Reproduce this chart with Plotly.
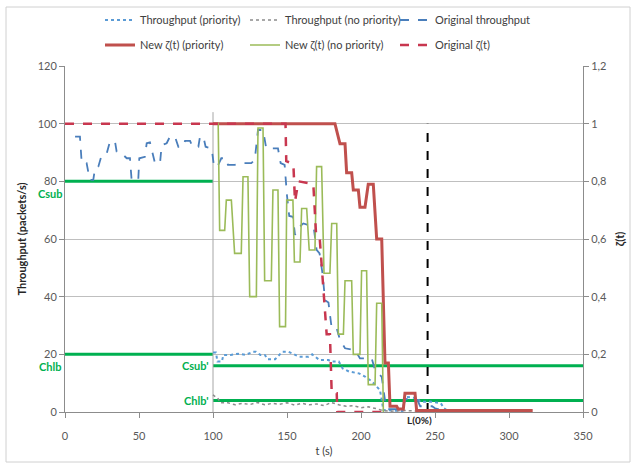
import plotly.graph_objects as go

# ---------------- data ----------------
# Original throughput (packets/s)
t_orig_thr = [6.8, 10.1, 11.3, 14.6, 15.7, 16.9, 19.1, 20.3, 22.5, 24.8, 28.2, 30.4, 33.8, 34.9,
              38.3, 41.7, 43.9, 45.0, 49.5, 50.2, 54.0, 55.2, 57.4, 59.2, 60.8, 64.2, 65.3, 68.7,
              70.9, 74.3, 76.6, 79.9, 81.1, 84.5, 86.2, 90.1, 91.2, 93.5, 95.0, 99.1, 100.7, 103.0,
              105.6, 109.0, 110.1, 114.6, 119.1, 125.9, 128.2, 130.4, 133.8, 136.0, 143.9, 145.7,
              148.4, 150.0, 151.5, 154.0, 155.4, 158.0, 161.0, 168.0, 170.0, 172.0, 174.0, 175.7,
              178.0, 180.2, 183.6, 185.8, 189.2, 196.0, 199.3, 207.2, 209.5, 214.0, 215.1, 216.5,
              218.0, 228.0, 230.0, 238.0, 240.0, 248.0, 250.0, 255.0]
v_orig_thr = [95.5, 95.5, 86.3, 86.3, 83.3, 80.5, 80.5, 84.5, 85.1, 89.1, 89.7, 93.8, 93.8, 90.3,
              89.7, 88.0, 88.0, 80.5, 80.5, 88.0, 88.5, 93.2, 93.5, 89.7, 86.3, 86.3, 92.5, 93.2,
              95.5, 95.5, 92.0, 92.0, 94.0, 94.0, 92.0, 92.0, 95.5, 95.5, 92.0, 91.4, 85.1, 85.1,
              88.0, 88.0, 85.7, 85.7, 86.3, 86.3, 87.4, 97.8, 97.8, 91.4, 91.4, 86.3,
              85.7, 75.0, 68.0, 67.7, 61.4, 64.0, 65.4, 64.3, 56.2, 55.0, 48.0, 38.8,
              38.0, 29.0, 29.0, 25.0, 22.1, 21.5, 18.6, 18.6, 14.6, 12.2, 8.8, 3.0,
              1.0, 1.0, 4.5, 4.2, 2.0, 2.0, 1.3, 0.5]

# Throughput with priority (packets/s)
t_thr_prio = [100, 102, 103, 106, 107, 112, 117, 122, 127, 129, 132, 135, 137, 142, 146.8, 151,
              154, 157.9, 164.6, 167, 172, 178, 180, 185, 187.6, 192, 198.6, 203, 207.6, 210,
              212.8, 214, 215.1, 228, 230, 238, 240, 247, 254, 256, 260]
v_thr_prio = [20.6, 20.6, 17.5, 17.5, 19.8, 19.8, 20.2, 19.8, 20.9, 20.9, 19.8, 19.8, 18.3, 18.3,
              20.9, 20.9, 20.2, 19.2, 19.2, 20.0, 18.0, 18.0, 17.5, 17.5, 15.1, 14.0, 13.4, 12.2,
              10.5, 9.0, 7.6, 4.2, 0.7, 0.3, 5.3, 4.8, 3.5, 3.6, 3.0, 1.3, 0.0]

# Throughput without priority (packets/s)
t_thr_noprio = [100, 101, 103, 105, 110, 115, 120, 125, 130, 135, 140, 145, 150, 155, 160, 165,
                170, 175, 180, 185, 190, 195, 200, 205, 210, 215, 220, 230, 240, 245]
v_thr_noprio = [6.0, 5.5, 5.0, 3.2, 3.2, 2.5, 3.0, 2.6, 3.3, 2.5, 3.0, 2.7, 3.2, 2.4, 3.0, 2.5,
                2.8, 2.2, 3.3, 2.5, 2.0, 2.2, 1.5, 1.8, 1.2, 0.5, 0.3, 0.5, 0.3, 0.2]
t_start_mark = [100, 100]
v_start_mark = [0, 104]

# New zeta(t) with priority
t_z_prio = [100, 182.4, 185.8, 189.2, 190.3, 193.7, 194.8, 198.2, 199.3, 202.7, 204.9, 208.3,
            210.6, 214.0, 216.2, 218.5, 219.6, 224.1, 225.2, 228.6, 229.7, 236.5, 237.6, 316.0]
z_prio = [1.0, 1.0, 0.93, 0.93, 0.83, 0.83, 0.77, 0.77, 0.71, 0.71, 0.79, 0.79,
          0.60, 0.60, 0.17, 0.17, 0.02, 0.02, 0.01, 0.01, 0.065, 0.065, 0.005, 0.005]

# New zeta(t) without priority
t_z_noprio = [100, 103.5, 104.5, 107.9, 109.0, 112.4, 114.6, 119.1, 120.3, 123.6, 124.8, 129.3,
              130.4, 133.8, 134.9, 139.4, 140.5, 143.9, 145.0, 149.0, 149.8, 154.0, 155.0, 158.8,
              159.9, 163.3, 165.0, 168.9, 170.0, 173.4, 175.0, 179.0, 180.2, 183.6, 184.7, 188.1,
              189.2, 193.7, 194.8, 199.3, 200.4, 203.8, 204.9, 209.5, 210.6, 214.0, 215.1]
z_noprio = [1.0, 1.0, 0.63, 0.63, 0.735, 0.735, 0.55, 0.55, 0.816, 0.816, 0.40, 0.40,
            0.985, 0.985, 0.455, 0.455, 0.77, 0.77, 0.296, 0.296, 0.735, 0.735, 0.52, 0.52,
            0.706, 0.706, 0.562, 0.562, 0.851, 0.851, 0.481, 0.481, 0.654, 0.654, 0.27, 0.27,
            0.455, 0.455, 0.20, 0.20, 0.49, 0.49, 0.095, 0.095, 0.377, 0.377, 0.0]

# Original zeta(t)
t_z_orig = [0, 149.0, 149.5, 154.3, 155.4, 157.7, 167.8, 169.6, 172.0, 176.8, 179.0, 180.2,
            183.6, 184.0, 215.0]
z_orig = [1.0, 1.0, 0.87, 0.86, 0.73, 0.80, 0.79, 0.62, 0.61, 0.27, 0.27, 0.065,
          0.065, 0.0, 0.0]

# Capacity thresholds
csub_t, csub_v = [0, 100], [80, 80]
chlb_t, chlb_v = [0, 100], [20, 20]
csub2_t, csub2_v = [100, 350], [16, 16]
chlb2_t, chlb2_v = [100, 350], [4, 4]
l0_t, l0_v = [245, 245], [0, 100]

left_ticks = [0, 20, 40, 60, 80, 100, 120]
right_tickvals = [0, 0.2, 0.4, 0.6, 0.8, 1.0, 1.2]
right_ticktext = ["0", "0,2", "0,4", "0,6", "0,8", "1", "1,2"]
x_ticks = [0, 50, 100, 150, 200, 250, 300, 350]

# ---------------- styles ----------------
FONT = "Lato"
RED = "#c0504d"
OLIVE = "#9bbb59"
GREEN = "#00b050"
BLUE_D = "#4a7ebb"
BLUE_P = "#5b9bd5"
GRAY_T = "#8c8c8c"

L, R, T, B = 65, 53, 66, 58
PW, PH = 636 - L - R, 470 - T - B


def px_x(p):
    return (p - L) / PW


def px_y(p):
    return (470 - B - p) / PH


fig = go.Figure()

for tt, vv in [(csub_t, csub_v), (chlb_t, chlb_v), (csub2_t, csub2_v), (chlb2_t, chlb2_v)]:
    fig.add_trace(go.Scatter(x=tt, y=vv, mode="lines", line=dict(color=GREEN, width=3),
                             showlegend=False, hoverinfo="skip"))

fig.add_trace(go.Scatter(x=t_start_mark, y=v_start_mark, mode="lines",
                         line=dict(color="#a6a6a6", width=1), showlegend=False, hoverinfo="skip"))

fig.add_trace(go.Scatter(x=t_thr_prio, y=v_thr_prio, mode="lines", name="Throughput (priority)",
                         line=dict(color=BLUE_P, width=2, dash="dot"), legend="legend"))
fig.add_trace(go.Scatter(x=t_thr_noprio, y=v_thr_noprio, mode="lines", name="Throughput (no priority)",
                         line=dict(color=GRAY_T, width=1.5, dash="dot"), legend="legend2"))
fig.add_trace(go.Scatter(x=t_orig_thr, y=v_orig_thr, mode="lines", name="Original throughput",
                         line=dict(color=BLUE_D, width=1.8, dash="dash"), legend="legend3"))

fig.add_trace(go.Scatter(x=l0_t, y=l0_v, mode="lines", line=dict(color="black", width=2, dash="dash"),
                         showlegend=False, hoverinfo="skip"))

fig.add_trace(go.Scatter(x=t_z_prio, y=z_prio, mode="lines", name="New ζ(t) (priority)", yaxis="y2",
                         line=dict(color=RED, width=3), legend="legend4"))
fig.add_trace(go.Scatter(x=t_z_noprio, y=z_noprio, mode="lines", name="New ζ(t) (no priority)", yaxis="y2",
                         line=dict(color=OLIVE, width=1.6), legend="legend5"))
fig.add_trace(go.Scatter(x=t_z_orig, y=z_orig, mode="lines", name="Original ζ(t)", yaxis="y2",
                         line=dict(color="#c8374f", width=2.5, dash="dash"), legend="legend6"))

tick_font = dict(family=FONT, size=11, color="#595959")
leg_font = dict(family=FONT, size=11, color="#404040")

# legend positions (text start x, row centre y) in pixels
leg_text_x = [142, 287, 437]
leg_row_y = [20, 45]
legends = {}
names = ["legend", "legend2", "legend3", "legend4", "legend5", "legend6"]
for i, nm in enumerate(names):
    col, row = i % 3, i // 3
    legends[nm] = dict(orientation="h", x=px_x(leg_text_x[col] - 42), y=px_y(leg_row_y[row]),
                       xanchor="left", yanchor="middle", font=leg_font,
                       bgcolor="rgba(0,0,0,0)", borderwidth=0, itemclick=False)

fig.update_layout(
    width=636, height=470,
    margin=dict(l=L, r=R, t=T, b=B, autoexpand=False),
    paper_bgcolor="white", plot_bgcolor="white",
    font=dict(family=FONT, size=11, color="#404040"),
    xaxis=dict(range=[0, 350], tickvals=x_ticks, showgrid=False, showline=True, linecolor="#8c8c8c",
               ticks="outside", ticklen=5, tickcolor="#8c8c8c", tickfont=tick_font, zeroline=False,
               ticklabelstandoff=9, automargin=False,
               title=dict(text="t (s)", font=dict(family=FONT, size=11, color="#404040"), standoff=6)),
    yaxis=dict(range=[0, 120], tickvals=left_ticks, showgrid=True, gridcolor="#bfbfbf", gridwidth=1,
               showline=True, linecolor="#8c8c8c", ticks="outside", ticklen=5, tickcolor="#8c8c8c",
               tickfont=tick_font, zeroline=False, automargin=False,
               title=dict(text="<b>Throughput (packets/s)</b>", font=dict(family=FONT, size=11, color="#262626"),
                          standoff=8)),
    yaxis2=dict(range=[0, 1.2], tickvals=right_tickvals, ticktext=right_ticktext, overlaying="y",
                side="right", showgrid=False, showline=True, linecolor="#8c8c8c", ticks="outside",
                ticklen=5, tickcolor="#8c8c8c", tickfont=tick_font, zeroline=False, automargin=False,
                title=dict(text="<b>ζ(t)</b>", font=dict(family=FONT, size=11, color="#262626"), standoff=10)),
    showlegend=True,
    **legends,
)

lab_font = dict(family=FONT, size=11, color=GREEN)
fig.add_annotation(x=0, y=80, xref="x", yref="y", text="<b>Csub</b>", showarrow=False,
                   xanchor="center", yanchor="top", xshift=-15, yshift=-4, font=lab_font)
fig.add_annotation(x=0, y=20, xref="x", yref="y", text="<b>Chlb</b>", showarrow=False,
                   xanchor="center", yanchor="top", xshift=-15, yshift=-4, font=lab_font)
fig.add_annotation(x=100, y=16, xref="x", yref="y", text="<b>Csub'</b>", showarrow=False,
                   xanchor="right", yanchor="middle", xshift=-2, font=lab_font)
fig.add_annotation(x=100, y=4, xref="x", yref="y", text="<b>Chlb'</b>", showarrow=False,
                   xanchor="right", yanchor="middle", xshift=-2, font=lab_font)
fig.add_annotation(x=245, y=0, xref="x", yref="y", text="<b>L(0%)</b>", showarrow=False,
                   xanchor="center", yanchor="top", xshift=-8, yshift=0,
                   font=dict(family=FONT, size=10, color="#262626"))

fig.add_shape(type="rect", xref="paper", yref="paper", x0=px_x(6), x1=px_x(630), y0=px_y(462), y1=px_y(7),
              line=dict(color="#d0d0d0", width=1), layer="below")

fig.write_html("out.html", post_script="document.body.style.margin='0';",
               config={"displayModeBar": False})
